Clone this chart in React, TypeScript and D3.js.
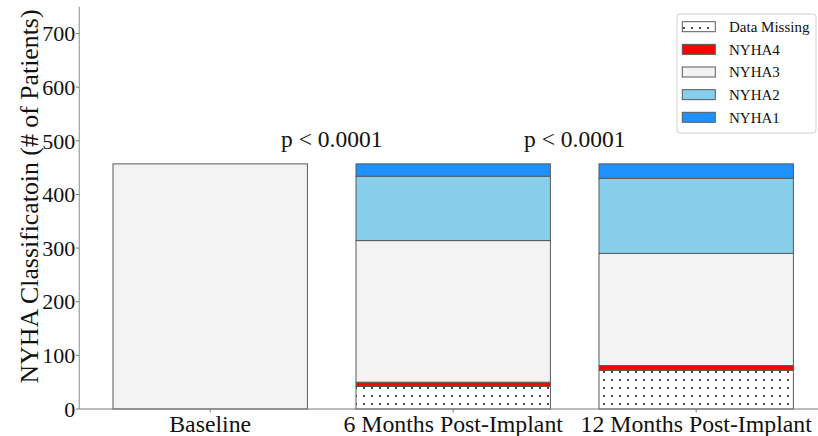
import React from "react";
import * as d3 from "d3";

// Time points on the x axis
const categories = ["Baseline", "6 Months Post-Implant", "12 Months Post-Implant"];

// Patient counts per NYHA class at each time point (stacked bottom to top)
const dataMissing = [0, 42, 72];
const nyha4 = [0, 8, 9];
const nyha3 = [457, 264, 209];
const nyha2 = [0, 120, 140];
const nyha1 = [0, 23, 27];

const yTicks = [0, 100, 200, 300, 400, 500, 600, 700];
const pLabels = ["p < 0.0001", "p < 0.0001"];

const seriesList = [
  { key: "Data Missing", values: dataMissing, fill: "url(#dots)" },
  { key: "NYHA4", values: nyha4, fill: "#ff0000" },
  { key: "NYHA3", values: nyha3, fill: "#f3f3f3" },
  { key: "NYHA2", values: nyha2, fill: "#87ceeb" },
  { key: "NYHA1", values: nyha1, fill: "#1e90ff" },
];

const W = 818;
const H = 436;
const FONT = "'Liberation Serif', 'Times New Roman', serif";
const EDGE = "#5a5a5a";

export default function App() {
  const x = d3
    .scaleBand<string>()
    .domain(categories)
    .range([88.7, 817.7])
    .paddingInner(0.2)
    .paddingOuter(0.1);
  const y = d3.scaleLinear().domain([0, 750]).range([409, 6.7]);

  const rows = categories.map((c, i) => {
    const r: Record<string, number | string> = { cat: c };
    seriesList.forEach((s) => (r[s.key] = s.values[i]));
    return r;
  });
  const stacked = d3.stack<any>().keys(seriesList.map((s) => s.key))(rows);

  const axisLeft = 79.3;
  const axisBottom = y(0);
  const bw = x.bandwidth();

  const centerOf = (c: string) => (x(c) ?? 0) + bw / 2;

  return (
    <svg
      width={W}
      height={H}
      style={{ position: "absolute", left: 0, top: 0, background: "#fff" }}
      fontFamily={FONT}
    >
      <defs>
        <pattern id="dots" width={8} height={8} patternUnits="userSpaceOnUse">
          <rect width={8} height={8} fill="#fff" />
          <circle cx={4} cy={4} r={1} fill="#111" />
        </pattern>
      </defs>

      {/* stacked bars */}
      {stacked.map((layer, li) =>
        layer.map((d, i) => {
          const v = d[1] - d[0];
          if (v <= 0) return null;
          return (
            <rect
              key={`${li}-${i}`}
              x={x(categories[i])}
              y={y(d[1])}
              width={bw}
              height={y(d[0]) - y(d[1])}
              fill={seriesList[li].fill}
              stroke={EDGE}
              strokeWidth={1}
            />
          );
        })
      )}

      {/* axes */}
      <line x1={axisLeft} x2={axisLeft} y1={y(750)} y2={axisBottom} stroke="#a0a0a0" strokeWidth={1.2} />
      <line x1={axisLeft} x2={W} y1={axisBottom} y2={axisBottom} stroke="#7a7a7a" strokeWidth={1.2} />
      {yTicks.map((t) => (
        <g key={t}>
          <line x1={axisLeft - 3.5} x2={axisLeft} y1={y(t)} y2={y(t)} stroke="#7a7a7a" />
          <text x={axisLeft - 4} y={y(t)} dy="0.35em" textAnchor="end" fontSize={22} fill="#111">
            {t}
          </text>
        </g>
      ))}
      {categories.map((c) => (
        <g key={c}>
          <line x1={centerOf(c)} x2={centerOf(c)} y1={axisBottom} y2={axisBottom + 3.5} stroke="#7a7a7a" />
          <text x={centerOf(c)} y={432} textAnchor="middle" fontSize={23.8} fill="#111">
            {c}
          </text>
        </g>
      ))}
      <text
        transform={`translate(38,${196.5}) rotate(-90)`}
        textAnchor="middle"
        fontSize={25.8}
        fill="#111"
      >
        NYHA Classificatoin (# of Patients)
      </text>

      {/* significance annotations */}
      {pLabels.map((p, i) => (
        <text
          key={i}
          x={(centerOf(categories[i]) + centerOf(categories[i + 1])) / 2}
          y={146.5}
          textAnchor="middle"
          fontSize={23.5}
          fill="#111"
        >
          {p}
        </text>
      ))}

      {/* legend */}
      <g>
        <rect x={677} y={14} width={139} height={119} rx={3} fill="#fff" fillOpacity={0.8} stroke="#d0d0d0" />
        {seriesList.map((s, i) => {
          const cy = 26.7 + i * 22.65;
          return (
            <g key={s.key}>
              <rect x={682.3} y={cy - 5} width={33} height={10} fill={s.fill} stroke={EDGE} strokeWidth={1} />
              <text x={729} y={cy} dy="0.35em" fontSize={15} fill="#111">
                {s.key}
              </text>
            </g>
          );
        })}
      </g>
    </svg>
  );
}
